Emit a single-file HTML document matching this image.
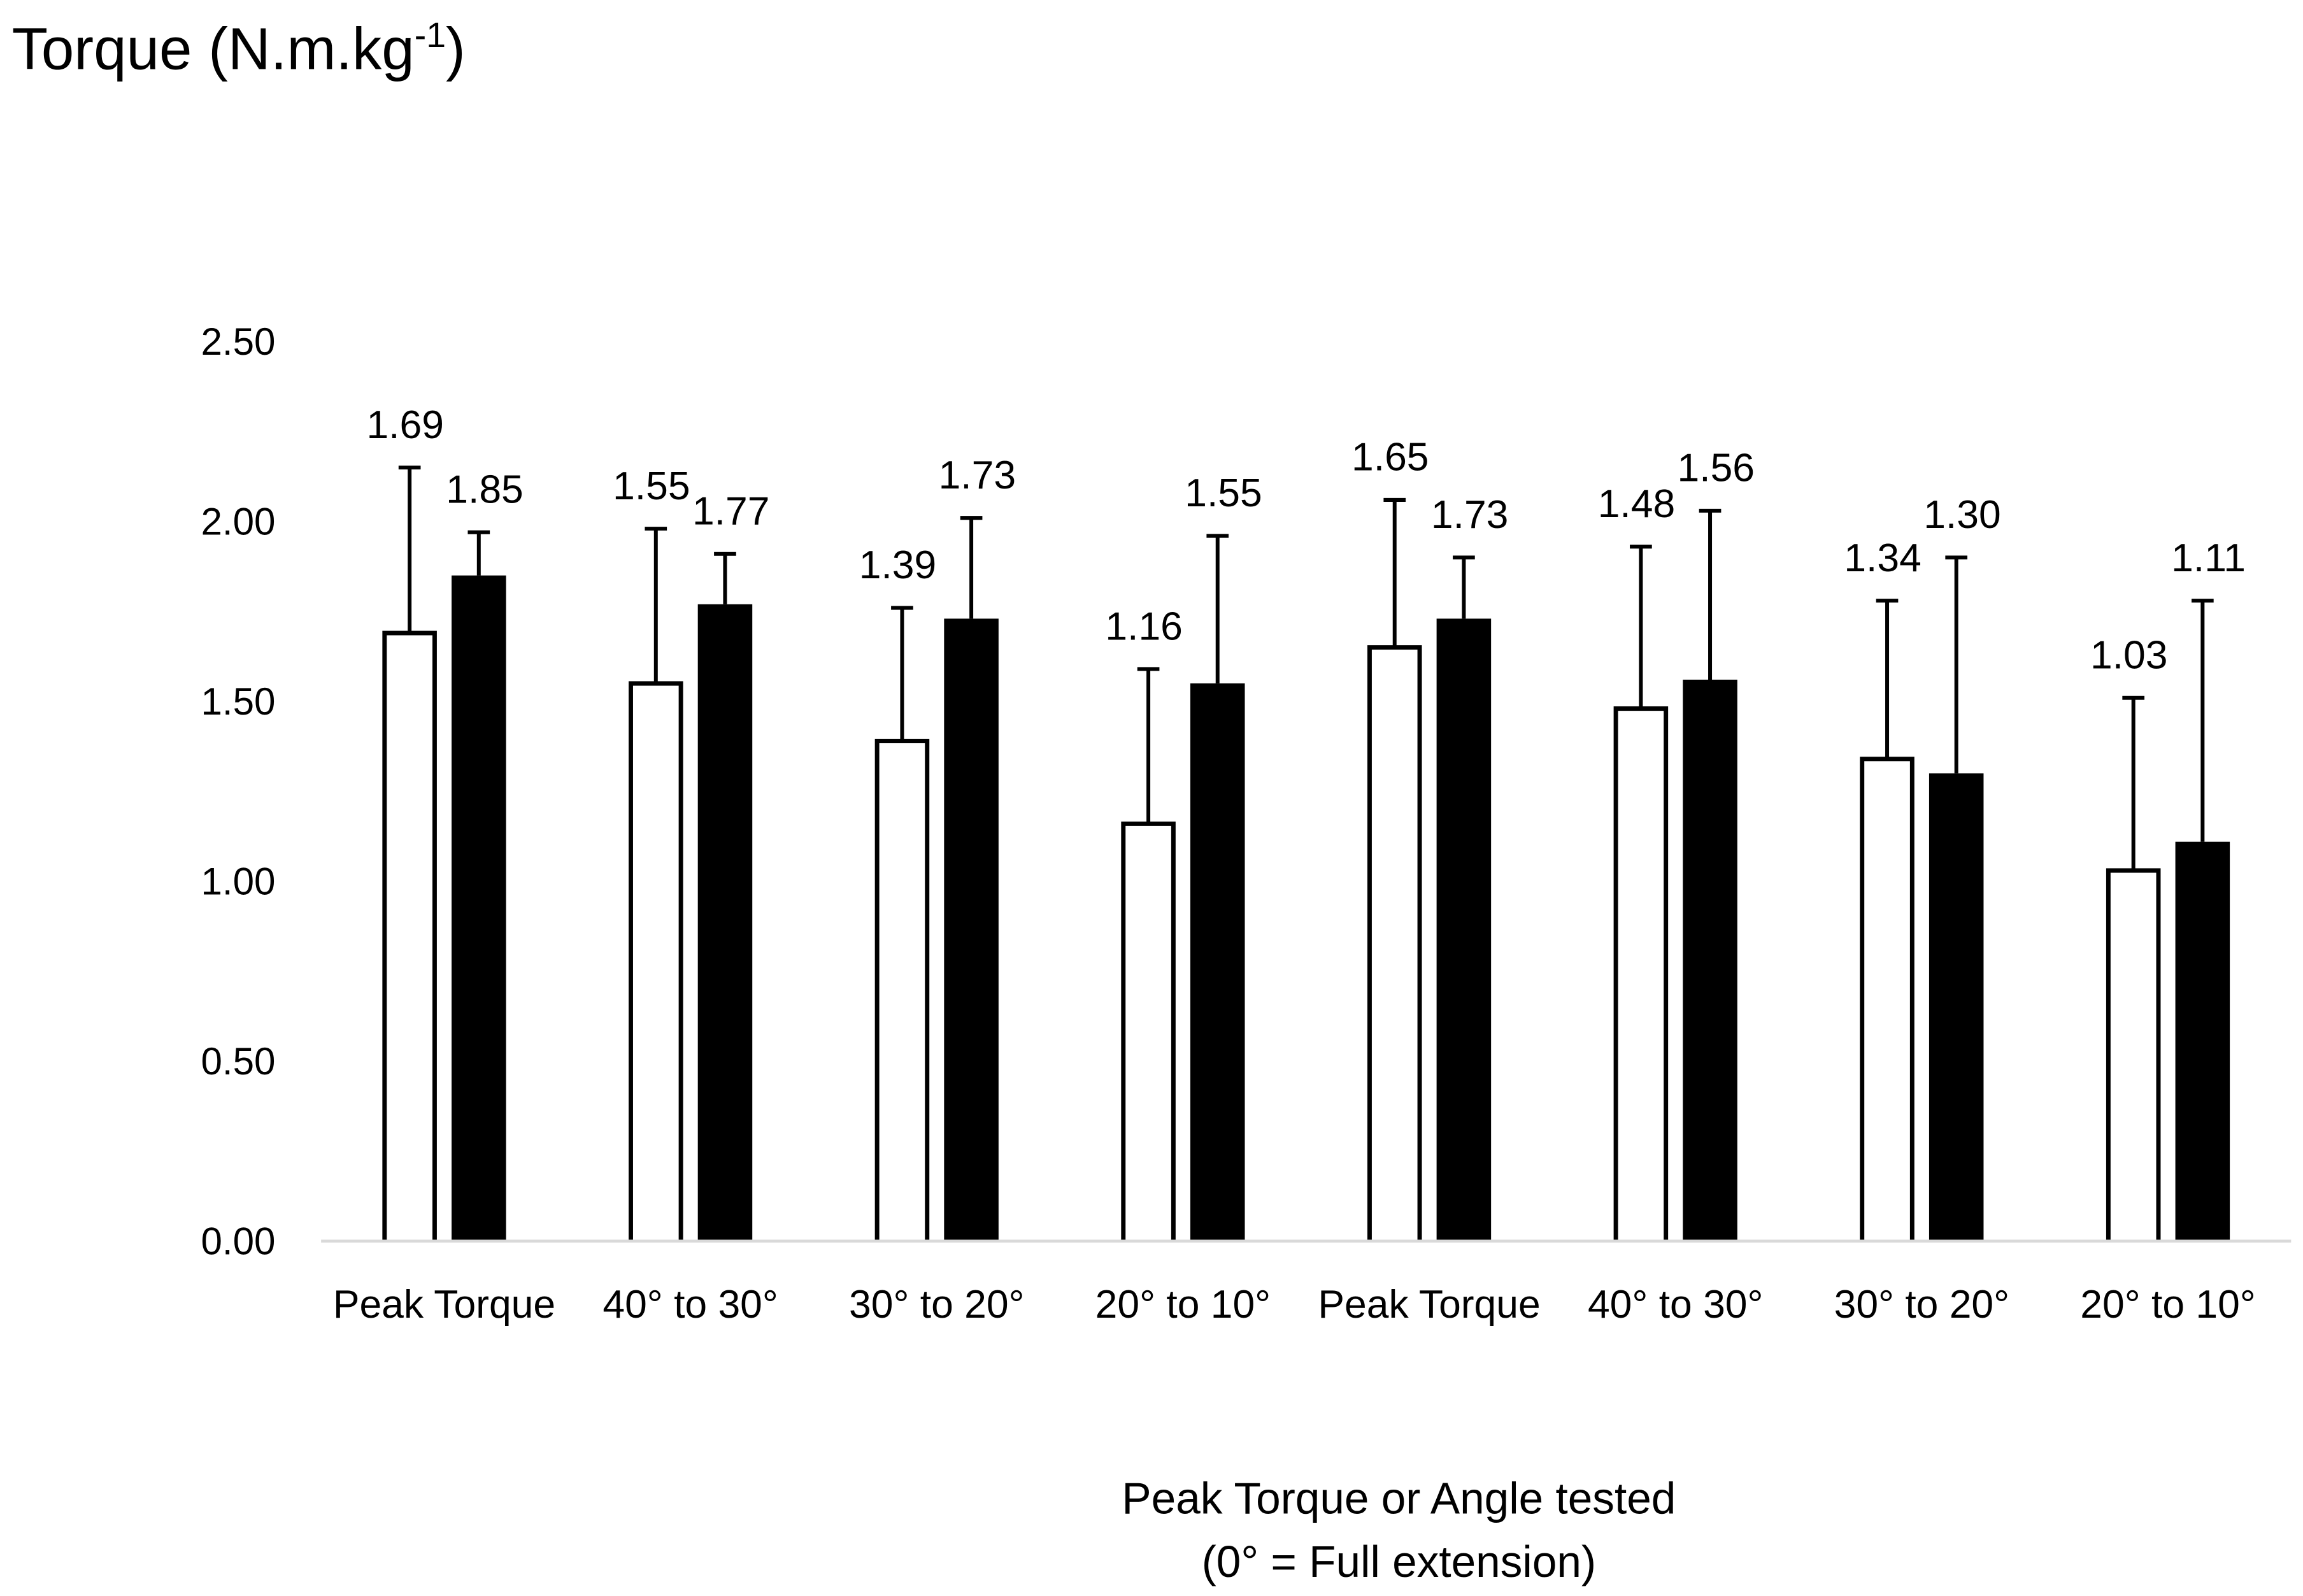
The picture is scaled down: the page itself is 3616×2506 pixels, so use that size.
<!DOCTYPE html>
<html><head><meta charset="utf-8"><style>html,body{margin:0;padding:0;background:#fff}svg{display:block}</style></head>
<body>
<svg id="chart" width="3616" height="2506" viewBox="0 0 1564 1084" xmlns="http://www.w3.org/2000/svg" font-family="'Liberation Sans', sans-serif">
<text x="8" y="47" font-size="40" fill="#000">Torque (N.m.kg<tspan font-size="24" dy="-15">-1</tspan><tspan dy="15">)</tspan></text>
<g id="yticks"></g>
<g id="bars"></g>
<line x1="218" y1="843" x2="1556" y2="843" stroke="#d9d9d9" stroke-width="2"/>
<g id="xlabels"></g>
<text x="950" y="1028" font-size="30" text-anchor="middle">Peak Torque or Angle tested</text>
<text x="950" y="1071" font-size="30" text-anchor="middle">(0° = Full extension)</text>
</svg>
<script>
const categories = ["Peak Torque","40° to 30°","30° to 20°","20° to 10°","Peak Torque","40° to 30°","30° to 20°","20° to 10°"];
const whiteValues = [1.69,1.55,1.39,1.16,1.65,1.48,1.34,1.03];
const whiteSD = [0.46,0.43,0.37,0.43,0.41,0.45,0.44,0.48];
const blackValues = [1.85,1.77,1.73,1.55,1.73,1.56,1.30,1.11];
const blackSD = [0.12,0.14,0.28,0.41,0.17,0.47,0.60,0.67];
const yTicks = [0,0.5,1,1.5,2,2.5];
const yTickLabels = ["0.00","0.50","1.00","1.50","2.00","2.50"];

const NS = "http://www.w3.org/2000/svg";
const x0 = 218, x1 = 1556, y0 = 843, pxPerUnit = 244.4;
const groupW = (x1 - x0) / categories.length;
const barW = 37, off = 23.5;
function yScale(v){ return y0 - v * pxPerUnit; }
function xCenter(i){ return x0 + groupW * (i + 0.5); }
function mk(tag, attrs, parent){ const e = document.createElementNS(NS, tag); for (const k in attrs) e.setAttribute(k, attrs[k]); parent.appendChild(e); return e; }

const yt = document.getElementById('yticks');
yTicks.forEach((t, i) => {
  const e = mk('text', {x: 187, y: yScale(t) + 9, 'font-size': 26, 'text-anchor': 'end'}, yt);
  
  
  e.textContent = yTickLabels[i];
});

const bars = document.getElementById('bars');
function drawBar(i, v, sd, dark){
  const cx = xCenter(i) + (dark ? off : -off);
  const top = yScale(v), etop = yScale(v + sd);
  const eb = mk('line', {x1: cx, y1: top, x2: cx, y2: etop, stroke: '#000', 'stroke-width': 2.6}, bars);
  
  
  const cap = mk('line', {x1: cx - 7.5, y1: etop, x2: cx + 7.5, y2: etop, stroke: '#000', 'stroke-width': 2.6}, bars);
  
  
  let r;
  if (dark) {
    r = mk('rect', {x: cx - barW/2, y: top, width: barW, height: y0 - 1 - top, fill: '#000'}, bars);
  } else {
    r = mk('path', {d: 'M' + (cx - barW/2 + 1.5) + ' ' + (y0 - 1) + ' V' + top + ' H' + (cx + barW/2 - 1.5) + ' V' + (y0 - 1), fill: '#fff', stroke: '#000', 'stroke-width': 3}, bars);
  }
  
  
  const lbl = mk('text', {x: cx + (dark ? 4 : -3), y: etop - 20, 'font-size': 27, 'text-anchor': 'middle'}, bars);
  
  
  lbl.textContent = v.toFixed(2);
}
categories.forEach((c, i) => {
  drawBar(i, whiteValues[i], whiteSD[i], false);
  drawBar(i, blackValues[i], blackSD[i], true);
});

const xl = document.getElementById('xlabels');
categories.forEach((c, i) => {
  const e = mk('text', {x: xCenter(i), y: 895, 'font-size': 27, 'text-anchor': 'middle'}, xl);
  
  
  e.textContent = c;
});
</script>
</body></html>
